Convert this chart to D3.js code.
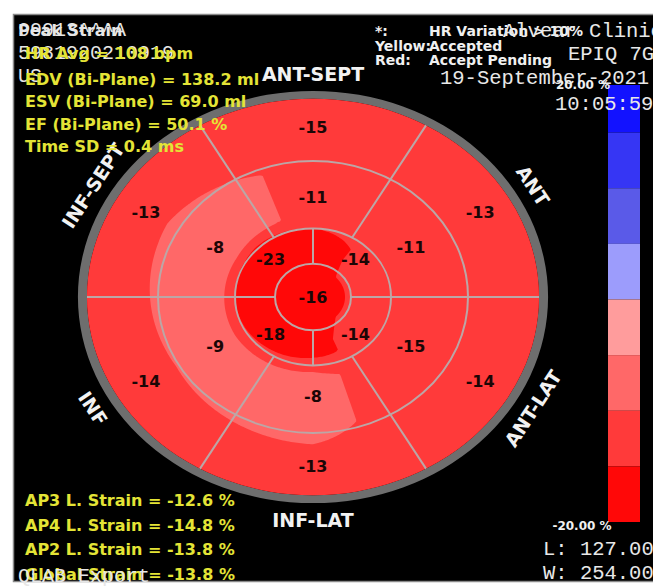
<!DOCTYPE html>
<html>
<head>
<meta charset="utf-8">
<script src="https://cdn.jsdelivr.net/npm/d3@7"></script>
<style>
  body { margin: 0; background: #fff; }
  svg { display: block; }
</style>
</head>
<body>
<svg id="chart"></svg>
<script>
// 17-segment bullseye, each ring read clockwise from the segment at the top
var basalNames = ["ANT-SEPT", "ANT", "ANT-LAT", "INF-LAT", "INF", "INF-SEPT"];
var basalValues = [-15, -13, -14, -13, -14, -13];
var midValues = [-11, -11, -15, -8, -9, -8];
var apicalValues = [-14, -14, -18, -23];   // starts at upper-right quadrant
var apexValue = -16;

var legendBreaks = [20, 15, 10, 5, 0, -5, -10, -15, -20];
var legendColors = ["#1212ff", "#3636f4", "#5a5ae8", "#9c9cfc", "#ff9c9c", "#ff6868", "#ff3a3a", "#ff0808"];
var legendTicks = ["20.00 %", "-20.00 %"];

var headerLines = ["99913^^^A", "5981920210919", "US"];
var headerSans = ["Peak Strain", "HR Avg = 108 bpm"];
var infoLines = ["EDV (Bi-Plane) = 138.2 ml", "ESV (Bi-Plane) = 69.0 ml", "EF (Bi-Plane) = 50.1 %", "Time SD = 0.4 ms"];
var strainLines = ["AP3 L. Strain = -12.6 %", "AP4 L. Strain = -14.8 %", "AP2 L. Strain = -13.8 %", "Global Strain = -13.8 %"];
var keyLines = [["*:", "HR Variation > 10%"], ["Yellow:", "Accepted"], ["Red:", "Accept Pending"]];
var scannerLines = ["Alvear Clinic", "EPIQ 7G", "19-September-2021", "10:05:59"];
var windowLines = ["L: 127.00", "W: 254.00"];
var footer = "QLAB Export";

var W = 653, H = 587;
var cx = 313, cy = 297, squash = 0.877;
var ringEdges = [38, 78, 155, 226];      // apex, apical, mid, basal outer radius
// radial span over which each ring keeps its own value; the map blends between spans
var ringSpans = [[0, 12], [52, 66], [92, 148], [198, 240]];
var labelRadius = [0, 60, 113, 193];
var rimOuter = 235, nameRadius = 254;

var yellow = "#e4e436", sans = "'DejaVu Sans', Verdana, sans-serif", mono = "'Liberation Mono', 'DejaVu Sans Mono', monospace";

var svg = d3.select("#chart").attr("width", W).attr("height", H);
svg.append("rect").attr("width", W).attr("height", H).attr("fill", "#fff");
svg.append("rect").attr("x", 13.5).attr("y", 14.5).attr("width", W).attr("height", 567)
  .attr("fill", "#000").attr("stroke", "#8a8a8a").attr("stroke-width", 1.5);

var color = d3.scaleThreshold()
  .domain(legendBreaks.slice(1, -1).reverse())
  .range(legendColors.slice().reverse());

function ringValue(vals, offset, a) {
  var n = vals.length, step = 360 / n;
  var p = (((a - offset) / step) % n + n) % n;
  var k = Math.floor(p), t = p - k;
  return vals[k] * (1 - t) + vals[(k + 1) % n] * t;
}

function strainAt(x, y) {
  var r = Math.sqrt(x * x + y * y);
  var a = Math.atan2(x, -y) * 180 / Math.PI;
  var v = [apexValue, ringValue(apicalValues, 45, a), ringValue(midValues, 0, a), ringValue(basalValues, 0, a)];
  for (var i = 0; i < ringSpans.length; i++) {
    if (r <= ringSpans[i][1]) {
      if (r >= ringSpans[i][0] || i === 0) return v[i];
      var t = (r - ringSpans[i - 1][1]) / (ringSpans[i][0] - ringSpans[i - 1][1]);
      return v[i - 1] * (1 - t) + v[i] * t;
    }
  }
  return v[3];
}

// sample the map on a grid and let d3.contours cut the colour bands
var R0 = 240, step = 2, n = R0 * 2 / step + 1;
var grid = new Array(n * n);
for (var j = 0; j < n; j++) {
  for (var i = 0; i < n; i++) {
    grid[j * n + i] = strainAt(i * step - R0, j * step - R0);
  }
}
var bands = d3.contours().size([n, n]).thresholds(color.domain())(grid);
var path = d3.geoPath(d3.geoIdentity().scale(step).translate([-R0 - step / 2, -R0 - step / 2]));

var g = svg.append("g").attr("transform", "translate(" + cx + "," + cy + ") scale(1," + squash + ")");

g.append("clipPath").attr("id", "disc").append("circle").attr("r", ringEdges[3]);

g.append("path")
  .attr("d", d3.arc()({ innerRadius: ringEdges[3], outerRadius: rimOuter, startAngle: 0, endAngle: 2 * Math.PI }))
  .attr("fill", "#6e6e6e");

var map = g.append("g").attr("clip-path", "url(#disc)");
map.append("circle").attr("r", ringEdges[3]).attr("fill", color(-100));
map.selectAll("path.band")
  .data(bands)
  .enter().append("path")
  .attr("class", "band")
  .attr("d", path)
  .attr("fill", function(d) { return color(d.value); });

// segment borders
var spokes = [];
[0, 1, 2, 3].forEach(function(a) { spokes.push({ a: a * 90, r0: ringEdges[0], r1: ringEdges[1] }); });
midValues.forEach(function(v, k) { spokes.push({ a: k * 60 + 30, r0: ringEdges[1], r1: ringEdges[3] }); });

var lineColor = "#bca6a6";
g.selectAll("line.spoke")
  .data(spokes)
  .enter().append("line")
  .attr("class", "spoke")
  .attr("x1", function(d) { return d.r0 * Math.sin(d.a * Math.PI / 180); })
  .attr("y1", function(d) { return -d.r0 * Math.cos(d.a * Math.PI / 180); })
  .attr("x2", function(d) { return d.r1 * Math.sin(d.a * Math.PI / 180); })
  .attr("y2", function(d) { return -d.r1 * Math.cos(d.a * Math.PI / 180); })
  .attr("stroke", lineColor).attr("stroke-width", 2)
  .attr("vector-effect", "non-scaling-stroke");

g.selectAll("circle.edge")
  .data(ringEdges.slice(0, 3))
  .enter().append("circle")
  .attr("class", "edge")
  .attr("r", function(d) { return d; })
  .attr("fill", "none").attr("stroke", lineColor).attr("stroke-width", 2)
  .attr("vector-effect", "non-scaling-stroke");

// segment values
function screen(r, a) {
  var rad = a * Math.PI / 180;
  return [cx + r * Math.sin(rad), cy - r * Math.cos(rad) * squash];
}
var segLabels = [{ v: apexValue, r: 0, a: 0 }];
apicalValues.forEach(function(v, k) { segLabels.push({ v: v, r: labelRadius[1], a: 45 + k * 90 }); });
midValues.forEach(function(v, k) { segLabels.push({ v: v, r: labelRadius[2], a: k * 60 }); });
basalValues.forEach(function(v, k) { segLabels.push({ v: v, r: labelRadius[3], a: k * 60 }); });

svg.selectAll("text.seg")
  .data(segLabels)
  .enter().append("text")
  .attr("class", "seg")
  .attr("x", function(d) { return screen(d.r, d.a)[0]; })
  .attr("y", function(d) { return screen(d.r, d.a)[1]; })
  .attr("text-anchor", "middle").attr("dominant-baseline", "central")
  .attr("font-family", sans).attr("font-weight", "bold").attr("font-size", 16)
  .attr("fill", "#1c0606")
  .text(function(d) { return d.v; });

// wall names round the rim
svg.selectAll("text.wall")
  .data(basalNames)
  .enter().append("text")
  .attr("class", "wall")
  .attr("transform", function(d, k) {
    var a = k * 60, rad = a * Math.PI / 180;
    var p = screen(nameRadius, a);
    var rot = Math.atan2(Math.sin(rad) * squash, Math.cos(rad)) * 180 / Math.PI;
    if (rot > 90) rot -= 180;
    if (rot < -90) rot += 180;
    return "translate(" + p[0] + "," + p[1] + ") rotate(" + rot + ")";
  })
  .attr("text-anchor", "middle").attr("dominant-baseline", "central")
  .attr("font-family", sans).attr("font-weight", "bold").attr("font-size", 19)
  .attr("fill", "#f2f2f2")
  .text(function(d) { return d; });

// colour bar
var yBar = d3.scaleLinear().domain([20, -20]).range([77, 522]);
svg.selectAll("rect.key")
  .data(legendColors)
  .enter().append("rect")
  .attr("class", "key")
  .attr("x", 608).attr("width", 32)
  .attr("y", function(d, k) { return Math.max(85, yBar(legendBreaks[k])); })
  .attr("height", function(d, k) { return yBar(legendBreaks[k + 1]) - Math.max(85, yBar(legendBreaks[k])); })
  .attr("fill", function(d) { return d; });

// text blocks
function block(lines, x, y0, dy, opts) {
  svg.append("g").selectAll("text")
    .data(lines)
    .enter().append("text")
    .attr("x", x)
    .attr("y", function(d, k) { return y0 + k * dy; })
    .attr("font-family", opts.font).attr("font-size", opts.size)
    .attr("font-weight", opts.weight || "normal")
    .attr("fill", opts.fill)
    .text(function(d) { return d; });
}

block(headerLines, 18, 36, 23, { font: mono, size: 20, fill: "#e6e6e6" });
block(headerSans.slice(0, 1), 18, 36, 23, { font: sans, size: 16, weight: "bold", fill: "#e6e6e6" });
block(headerSans.slice(1), 25, 59, 23, { font: sans, size: 16, weight: "bold", fill: yellow });
block(infoLines, 25, 85, 22.3, { font: sans, size: 16, weight: "bold", fill: yellow });
block(strainLines, 25, 506, 24.5, { font: sans, size: 16, weight: "bold", fill: yellow });
block([footer], 18, 582, 0, { font: mono, size: 20, fill: "#e6e6e6" });

block(keyLines.map(function(d) { return d[0]; }), 375, 36, 14.5, { font: sans, size: 14, weight: "bold", fill: "#f0f0f0" });
block(keyLines.map(function(d) { return d[1]; }), 429, 36, 14.5, { font: sans, size: 14, weight: "bold", fill: "#f0f0f0" });

block(scannerLines.slice(0, 1), 503, 37, 0, { font: mono, size: 20.5, fill: "#e8e8e8" });
block(scannerLines.slice(1, 2), 568, 60, 0, { font: mono, size: 20.5, fill: "#e8e8e8" });
block(scannerLines.slice(2, 3), 440, 84, 0, { font: mono, size: 20.5, fill: "#e8e8e8" });
block(scannerLines.slice(3), 555, 110, 0, { font: mono, size: 20.5, fill: "#e8e8e8" });
block(windowLines, 543, 555, 24, { font: mono, size: 20.5, fill: "#e8e8e8" });

svg.append("text").attr("x", 583).attr("y", 89).attr("text-anchor", "middle")
  .attr("font-family", sans).attr("font-weight", "bold").attr("font-size", 12).attr("fill", "#f0f0f0")
  .text(legendTicks[0]);
svg.append("text").attr("x", 582).attr("y", 530).attr("text-anchor", "middle")
  .attr("font-family", sans).attr("font-weight", "bold").attr("font-size", 12).attr("fill", "#f0f0f0")
  .text(legendTicks[1]);
</script>
</body>
</html>
